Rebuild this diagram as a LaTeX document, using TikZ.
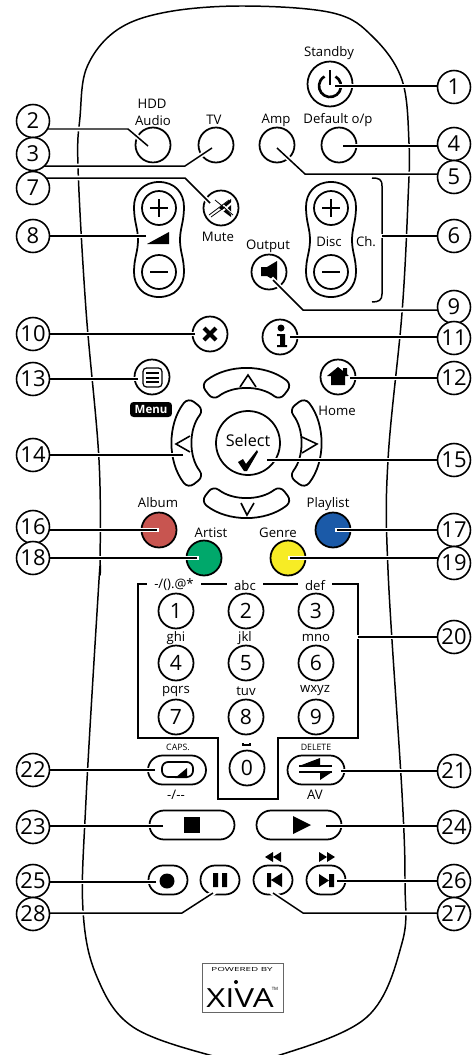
\documentclass[tikz,border=0pt]{standalone}
\usepackage{fontspec}
\setmainfont{Open Sans}
\usetikzlibrary{calc,shapes.misc}
\definecolor{albumred}{RGB}{200,85,80}
\definecolor{listblue}{RGB}{27,90,168}
\definecolor{artistgreen}{RGB}{0,168,107}
\definecolor{genreyellow}{RGB}{247,236,37}
\pgfdeclarelayer{front}
\pgfsetlayers{main,front}
\tikzset{
  lbl/.style={font=\fontsize{7.5}{8}\selectfont,inner sep=0pt},
  tinylbl/.style={font=\fontsize{5}{6}\selectfont,inner sep=0pt},
  callout/.style={circle,draw,line width=.9pt,fill=white,minimum size=.66cm,inner sep=0pt,font=\fontsize{12.5}{13}\selectfont},
  btn/.style={circle,draw,line width=1pt,minimum size=.7cm,inner sep=0pt},
  numkey/.style={btn,font=\fontsize{12}{13}\selectfont},
  pill/.style={rounded rectangle,draw,line width=1pt,minimum height=.58cm,inner sep=0pt},
  leader/.style={line width=.85pt,preaction={draw=white,line width=2.8pt,line cap=rect}},
  toplbl/.style={lbl,fill=white,inner xsep=4pt,inner ysep=0pt},
  plusminus/.style={line width=1.4pt},
}
\begin{document}
\begin{tikzpicture}[x=0.02cm,y=-0.02cm]
  \useasboundingbox (0,0) rectangle (473,1055);
  % body of the remote
  \draw[line width=.85pt] plot[smooth cycle,tension=.6] coordinates {(245,6) (333,13) (373,37) (402,80) (409,143) (408,200)
    (402,313) (388,460) (388,570) (402,793) (405,883) (402,943) (367,1017) (277,1056) (245,1059) (213,1056)
    (133,1027) (97,977) (83,910) (86,800) (99,580) (100,570) (99,460) (86,310) (78,167) (80,117) (87,67) (117,30) (167,12)};
  % numbered callouts, kept above the leaders
  \begin{pgfonlayer}{front}
    \foreach \n/\y in {2/121,3/154,7/188,8/236,10/334,13/379,14/455,16/527,18/558,22/770,23/827,25/881,28/914}
      \node[callout] (c\n) at (33,\y) {\n};
    \foreach \n/\y in {1/87,4/144,5/177,6/236,9/307,11/338,12/378,15/460,17/530,19/563,20/637,21/771,24/827,26/881,27/914}
      \node[callout] (c\n) at (454,\y) {\n};
  \end{pgfonlayer}
  % top row
  \node[btn,minimum size=.9cm] (bstandby) at (330,84) {};
  \draw[line width=1.5pt] (335.5,76.5) arc[start angle=-60,delta angle=300,radius=11];
  \draw[line width=1.7pt] (330,70) -- (330,85);
  \node[lbl] (lstandby) at (329,53) {Standby};
  \node[btn] (baudio) at (153,145) {};
  \node[btn] (btv) at (216,145) {};
  \node[btn] (bamp) at (277,145) {};
  \node[btn] (bdefault) at (339,145) {};
  \node[lbl] (lhdd) at (152,104) {HDD};
  \node[lbl] (laudio) at (153,121) {Audio};
  \node[lbl] (ltv) at (214,120) {TV};
  \node[lbl] (lamp) at (276,120) {Amp};
  \node[lbl] (ldefault) at (338,120) {Default o/p};
  % volume and disc rockers
  \foreach \cx in {159,331} {
    \begin{scope}[xshift=\cx*0.02cm]
      \draw[line width=1pt] (0,182) .. controls (16,182) and (25,193) .. (25,207)
        .. controls (25,222) and (21,228) .. (21,240) .. controls (21,252) and (25,258) .. (25,272)
        .. controls (25,286) and (16,297) .. (0,297) .. controls (-16,297) and (-25,286) .. (-25,272)
        .. controls (-25,258) and (-21,252) .. (-21,240) .. controls (-21,228) and (-25,222) .. (-25,207)
        .. controls (-25,193) and (-16,182) .. (0,182) -- cycle;
      \draw[plusminus] (-9,208) -- (9,208) (0,199) -- (0,217);
      \draw[plusminus] (-9,272) -- (9,272);
    \end{scope}
  }
  \node[btn,minimum size=.68cm] (bvolup) at (159,208) {};
  \node[btn,minimum size=.68cm] (bvoldown) at (159,272) {};
  \node[btn,minimum size=.68cm] (bdiscup) at (331,208) {};
  \node[btn,minimum size=.68cm] (bdiscdown) at (331,272) {};
  \fill (147,244) -- (169,232) -- (169,244) -- cycle;
  \node[lbl] (ldisc) at (329,242) {Disc};
  \node[lbl] (lch) at (366,242) {Ch.};
  \draw[line width=.85pt] (372,178) .. controls (379,178) and (382,179) .. (382,186) -- (382,294)
    .. controls (382,300) and (379,302) .. (372,302);
  \coordinate (e6) at (382,236);
  % mute and output
  \node[btn] (bmute) at (221,208) {};
  \node[lbl] (lmute) at (218,237) {Mute};
  \fill (219,208) -- (231,199) -- (231,217) -- cycle;
  \draw[white,line width=1.1pt] (218,200) -- (233,215) (219,214) -- (233,202);
  \draw[line width=.45pt] (215,200) -- (233,215) (209,215) -- (229,200) (211,217) -- (225,207);
  \node[btn] (boutput) at (269,272) {};
  \node[lbl] (loutput) at (268,246) {Output};
  \fill (261,267) -- (267,267) -- (277,261) -- (277,282) -- (267,276) -- (261,276) -- cycle;
  % cancel, info, menu, home
  \node[btn] (bcancel) at (210,334) {};
  \draw[line width=2.4pt] (204,328) -- (216,340) (216,328) -- (204,340);
  \node[btn] (binfo) at (280,337) {};
  \fill (281,328) circle (3.5);
  \fill (277,334) -- (285,334) -- (285,345) -- (287,345) -- (287,347) -- (277,347) -- (277,345) -- (280,345) -- (280,336) -- (277,336) -- cycle;
  \node[btn] (bmenu) at (152,377) {};
  \draw[line width=.7pt,rounded corners=2] (143,368) rectangle (162,387);
  \draw[line width=.7pt] (146,373) -- (159,373) (146,378) -- (159,378) (146,382) -- (159,382);
  \node[rounded corners=2pt,fill=black,text=white,inner sep=0pt,minimum width=.84cm,minimum height=.3cm,font=\fontsize{6.5}{7}\selectfont\bfseries] (lmenu) at (151,409.5) {Menu};
  \node[btn] (bhome) at (338,377) {};
  \fill (338,367) -- (343,371) -- (343,368) -- (347,368) -- (347,374) -- (349,376) -- (345,376) -- (345,385) -- (331,385) -- (331,376) -- (327,376) -- cycle;
  \node[lbl] (lhome) at (337,411) {Home};
  % navigation ring
  \begin{scope}[shift={(246.5,443)}]
    \foreach \a in {-90,0,90,180}
      \draw[line width=1pt,rounded corners=4] (\a-38:74) arc[start angle=\a-38,delta angle=76,radius=74]
        -- (\a+38:54) arc[start angle=\a+38,delta angle=-76,radius=54] -- cycle;
  \end{scope}
  \draw[line width=.9pt] (240,387) -- (248,375) -- (256,387);
  \draw[line width=.9pt] (241,503) -- (247,515) -- (254,503);
  \draw[line width=.9pt] (190,436) -- (176,444) -- (190,452);
  \draw[line width=.9pt] (302,437) -- (317,444) -- (302,453);
  \node[btn,minimum size=1.28cm] (bselect) at (248,443) {};
  \node[font=\fontsize{9.2}{10}\selectfont,inner sep=0pt] (lselect) at (248,440) {Select};
  \fill (238,462) -- (243,459) -- (246,464) -- (257,450) -- (258,452) -- (247,471) -- (244,471) -- cycle;
  % colour buttons
  \node[btn,fill=albumred] (balbum) at (159,530) {};
  \node[btn,fill=listblue] (bplaylist) at (333,530) {};
  \node[btn,fill=artistgreen] (bartist) at (204,558) {};
  \node[btn,fill=genreyellow] (bgenre) at (288,558) {};
  \node[lbl] (lalbum) at (158,503) {Album};
  \node[lbl] (lplaylist) at (328,504) {Playlist};
  \node[lbl] (lartist) at (211,533) {Artist};
  \node[lbl] (lgenre) at (278,533) {Genre};
  % number pad and its bracket
  \draw[line width=.9pt] (138,584) -- (358,584) -- (358,738) -- (278,738) -- (278,799) -- (218,799) -- (218,738) -- (138,738) -- cycle;
  \coordinate (e20) at (358,637);
  \node[toplbl] (lkey1) at (174,585) {-/().@*};
  \node[toplbl] (lkey2) at (245,586) {abc};
  \node[toplbl] (lkey3) at (315,586) {def};
  \foreach \n/\x/\y in {1/176/611,2/246/611,3/316/611,4/176/663,5/246/663,6/316/663,7/176/717,8/246/717,9/316/717,0/247/768}
    \node[numkey] (k\n) at (\x,\y) {\n};
  \foreach \t/\x/\y in {ghi/176/638,jkl/245/638,mno/316/638,pqrs/176/691,tuv/246/691,wxyz/315/691}
    \node[lbl] (l\t) at (\x,\y) {\t};
  \draw[line width=.7pt] (243,743) -- (243,745) -- (250,745) -- (250,743);
  % caps and delete
  \node[pill,minimum width=1.16cm] (bcaps) at (177,770) {};
  \draw[line width=1pt,rounded corners=3.5] (162,762) rectangle (193,777);
  \fill (175,778) -- (187,768) -- (187,778) -- cycle;
  \node[tinylbl] (lcaps) at (178,747) {CAPS.};
  \node[lbl] (ldash) at (176,795) {-/-{}-};
  \node[pill,minimum width=1.14cm] (bdelete) at (316,770) {};
  \draw[line width=.9pt] (299,766) -- (332,766) (299,772) -- (332,772);
  \fill (299,766) -- (320,758) -- (320,766) -- cycle;
  \fill (332,772) -- (320,772) -- (320,780) -- cycle;
  \node[tinylbl] (ldelete) at (316,747) {DELETE};
  \node[lbl] (lav) at (315,795) {AV};
  % transport keys
  \node[pill,minimum width=1.7cm] (bstop) at (192,825) {};
  \fill (184,817) rectangle (200,833);
  \node[pill,minimum width=1.7cm] (bplay) at (299,825) {};
  \fill (293,816) -- (311,825) -- (293,834) -- cycle;
  \node[pill,minimum width=.78cm] (brec) at (168,880) {};
  \fill (167,881) circle (7.5);
  \node[pill,minimum width=.78cm] (bpause) at (220,880) {};
  \fill (213,873) rectangle (218,887) (222,873) rectangle (227,887);
  \node[pill,minimum width=.78cm] (bprev) at (273,880) {};
  \fill (267,873) rectangle (271,887) (271,880) -- (282,873) -- (282,887) -- cycle;
  \node[pill,minimum width=.78cm] (bnext) at (326,880) {};
  \fill (329,874) rectangle (334,887) (319,874) -- (329,880.5) -- (319,887) -- cycle;
  \fill (265,857) -- (273,852) -- (273,862) -- cycle (273,857) -- (281,852) -- (281,862) -- cycle;
  \fill (319,852) -- (327,857) -- (319,862) -- cycle (327,852) -- (335,857) -- (327,862) -- cycle;
  % logo
  \draw[line width=.5pt,black!60] (202,963) rectangle (283,1012);
  \node[font=\fontsize{3.2}{4}\selectfont,inner sep=0pt,xscale=1.75] (lpowered) at (242,969) {POWERED BY};
  \node[font=\fontsize{15}{16}\selectfont,inner sep=0pt,xscale=1.25] (lxiva) at (240,998) {XIVA};
  \fill (236,982) circle (2);
  \node[font=\fontsize{2.5}{3}\selectfont,inner sep=0pt] (ltm) at (275,989) {TM};
  % leader ends and bends
  \foreach \n/\x/\y in {1/335/86,2/148/146,3/212/148,4/343/146,5/277/148,7/210/203,8/146/236,9/273/280,10/195/334,11/290/337,
      12/350/378,13/138/379,14/183/455,15/267/460,16/157/530,17/337/530,18/197/558,19/290/558,21/341/771,22/155/770,
      23/163/826,24/326/826,25/156/882,26/337/881,27/273/893,28/213/893}
    \coordinate (e\n) at (\x,\y);
  \foreach \n/\x/\y in {2/128/129,3/185/166,5/305/174,7/185/178,9/303/310,27/303/913,28/182/913}
    \coordinate (k\n) at (\x,\y);
  % leaders
  \foreach \n in {1,4,6,8,10,11,12,13,14,15,16,17,18,19,20,21,22,23,24,25,26}
    \draw[leader] (e\n) -- (e\n -| c\n);
  \foreach \n in {2,3,5,7,9,27,28}
    \draw[leader] (e\n) -- (k\n) -- (k\n -| c\n);
\end{tikzpicture}
\end{document}
